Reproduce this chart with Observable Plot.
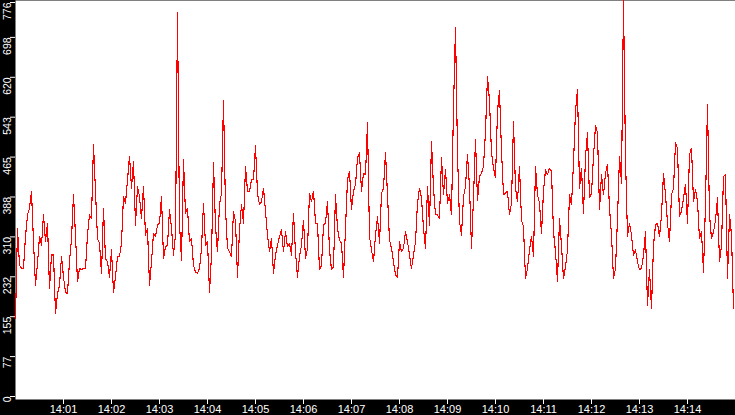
<!DOCTYPE html>
<html><head><meta charset="utf-8">
<script src="https://cdn.jsdelivr.net/npm/d3@7"></script>
<script src="https://cdn.jsdelivr.net/npm/@observablehq/plot@0.6"></script>
<style>html,body{margin:0;padding:0;background:#000;overflow:hidden}</style>
</head><body><div id="chart"></div>
<script>
// Time series: one reading every 2.5 s starting 14:00:00
const startTime = "2000-01-01T14:00:00Z";
const endTime = "2000-01-01T14:15:00Z";
const stepSeconds = 2.5;

const seg1 = [157,333,261,255,255,317,359,372,405,307,
222,265,317,300,359,307,343,216,281,281,
167,206,222,278,238,209,206,268,313,398,
320,229,255,252,255,255,320,359,352,496,
405,313,304,245,372,274,268,238,291,209,
238,278,278,304,395,382,427,473,411,463,
339,414,395,352,414,320,333,222,268,323,
317,339,343,395,274,297,300,369,333,281,
320,752,343,271,467,362,372,307,313,261];
const seg2 = [248,245,255,294,382,300,307,209,281,460,
336,287,379,401,582,372,294,287,278,366,
346,238,330,379,343,453,405,405,427,427,
493,401,379,385,411,366,320,287,313,245,
281,300,317,330,287,326,297,304,281,362,
287,238,278,300,349,274,294,401,385,405,
343,343,252,261,339,343,385,291,252,258,
398,333,310,304,238,333,427,444,369,405,
418,470,480,405,440,437,538,317,291,268];
const seg3 = [320,356,304,401,411,480,398,310,294,268,
242,238,307,287,294,326,307,281,255,281,
307,382,411,392,333,294,414,339,502,411,
359,359,352,470,398,447,382,398,359,568,
724,480,346,320,395,414,476,414,294,392,
506,388,434,440,453,522,629,581,480,450,
431,561,600,483,398,401,405,359,382,541,
411,385,453,349,336,235,255,291,317,278,
453,398,382,323,405,447,437,450,444,326];
const seg4 = [287,229,352,300,235,258,291,398,379,460,
561,603,411,450,362,473,519,392,401,473,
532,519,369,437,398,440,457,372,320,235,
255,352,473,421,776,470,317,343,320,281,
291,268,252,255,281,326,183,252,177,300,
339,343,317,359,440,398,343,307,398,411,
499,489,356,366,392,418,343,476,489,385,
408,385,313,326,248,382,574,359,313,326,
349,392,268,300,434,437,235,359,320,177];

const yTicks = [0,77.6,155.2,232.8,310.4,388,465.6,543.2,620.8,698.4,776];
const yTickLabels = ["0","77","155","232","310","388","465","543","620","698","776"];
const xTickLabels = ["14:01","14:02","14:03","14:04","14:05","14:06","14:07","14:08","14:09","14:10","14:11","14:12","14:13","14:14"];

const values = [...seg1, ...seg2, ...seg3, ...seg4];
const t0 = Date.parse(startTime);
const data = values.map((v, i) => ({t: new Date(t0 + i * stepSeconds * 1000), v}));
const xTicks = xTickLabels.map(s => new Date(`2000-01-01T${s}:00Z`));
const yLabel = d => yTickLabels[yTicks.indexOf(d)];
const fmt = d3.utcFormat("%H:%M");

const chart = Plot.plot({
  width: 735, height: 415,
  marginLeft: 15, marginRight: 0, marginTop: 0, marginBottom: 16,
  style: {background: "#000", fontFamily: "'Liberation Sans', Arial, sans-serif", fontSize: "11px", overflow: "visible"},
  x: {type: "utc", domain: [new Date(startTime), new Date(endTime)]},
  y: {domain: [0, 776]},
  marks: [
    Plot.frame({fill: "white", stroke: "none"}),
    Plot.line(data, {x: "t", y: "v", stroke: "red", strokeWidth: 1.1, shapeRendering: "crispEdges"}),
    Plot.axisX({ticks: xTicks, tickFormat: fmt, color: "white", tickSize: 5, tickPadding: 1, fontSize: 11, label: null}),
    Plot.axisY({ticks: yTicks.slice(0, -1), tickFormat: yLabel, color: "white", tickSize: 5, tickPadding: 0,
      tickRotate: -90, textAnchor: "end", lineAnchor: "bottom", dy: -3, fontSize: 10.5, label: null}),
    Plot.axisY({ticks: yTicks.slice(-1), tickFormat: yLabel, color: "white", tickSize: 5, tickPadding: 0,
      tickRotate: -90, textAnchor: "end", lineAnchor: "bottom", dy: 2, fontSize: 10.5, label: null})
  ]
});
document.getElementById("chart").appendChild(chart);
</script>
</body></html>
